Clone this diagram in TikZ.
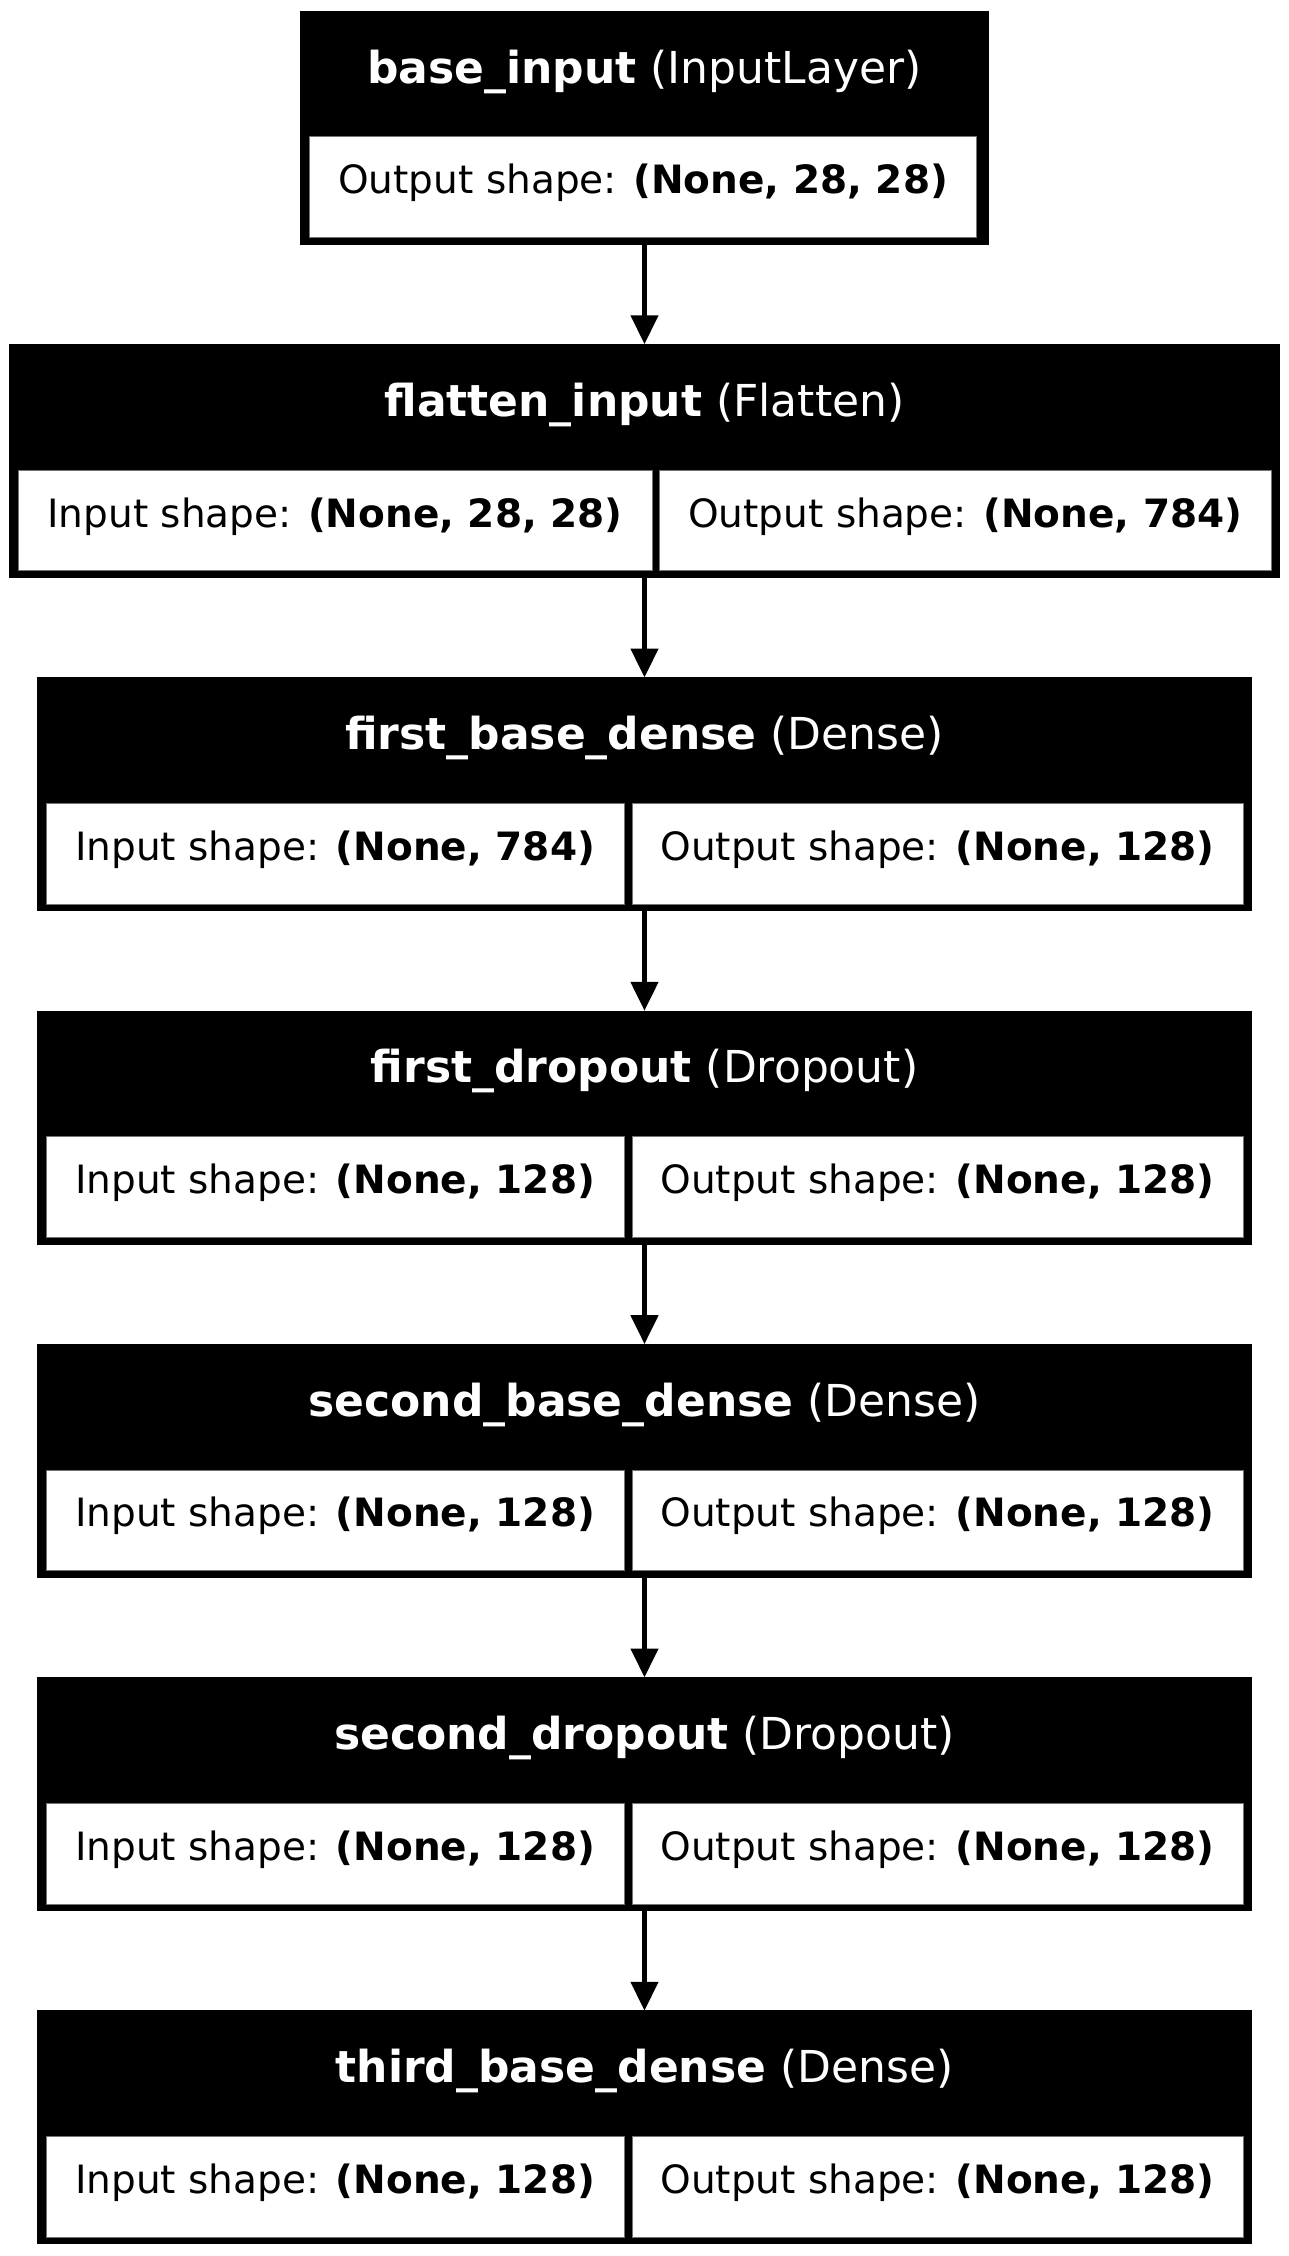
\documentclass[tikz,border=0pt]{standalone}
\usepackage{fontspec}
\setmainfont{DejaVu Sans}
\usetikzlibrary{positioning, arrows.meta}
\tikzstyle{layer} = [rectangle, fill=black, draw=black, text=white, inner sep=0pt, outer sep=0pt, text height=36pt, text depth=80.5pt, font=\fontsize{22}{26}\selectfont]
\tikzstyle{cell} = [rectangle, fill=white, draw=black!55, line width=0.4pt, inner sep=0pt, outer sep=0pt, text height=28.4pt, text depth=21.85pt, font=\fontsize{19.5}{23}\selectfont]
\tikzstyle{arrow} = [line width=2.8pt, ->, >={Triangle[length=14.5pt, width=13.3pt]}]

\begin{document}
\begin{tikzpicture}[node distance=50.15pt]
	\useasboundingbox (-322.25pt,5.5pt) rectangle (322.25pt,-1122.5pt);
	\node (base) [layer, minimum width=344.35pt, anchor=north] at (0,0) {\textbf{base\_input} (InputLayer)};
	\node (baseout) [cell, minimum width=333.7pt, above right=3.35pt and 4.65pt of base.south west] {Output shape: \textbf{(None, 28, 28)}};
	\node (flat) [layer, minimum width=634.85pt, below=of base] {\textbf{flatten\_input} (Flatten)};
	\node (flatin) [cell, minimum width=317pt, above right=3.3pt and 4.2pt of flat.south west] {Input shape: \textbf{(None, 28, 28)}};
	\node (flatout) [cell, minimum width=305.7pt, above left=3.3pt and 4.15pt of flat.south east] {Output shape: \textbf{(None, 784)}};
	\node (dense1) [layer, minimum width=606.75pt, below=of flat] {\textbf{first\_base\_dense} (Dense)};
	\node (dense1in) [cell, minimum width=289.15pt, above right=3.3pt and 4.1pt of dense1.south west] {Input shape: \textbf{(None, 784)}};
	\node (dense1out) [cell, minimum width=305.55pt, above left=3.3pt and 4.1pt of dense1.south east] {Output shape: \textbf{(None, 128)}};
	\node (drop1) [layer, minimum width=606.75pt, below=of dense1] {\textbf{first\_dropout} (Dropout)};
	\node (drop1in) [cell, minimum width=289.15pt, above right=3.3pt and 4.1pt of drop1.south west] {Input shape: \textbf{(None, 128)}};
	\node (drop1out) [cell, minimum width=305.55pt, above left=3.3pt and 4.1pt of drop1.south east] {Output shape: \textbf{(None, 128)}};
	\node (dense2) [layer, minimum width=606.75pt, below=of drop1] {\textbf{second\_base\_dense} (Dense)};
	\node (dense2in) [cell, minimum width=289.15pt, above right=3.3pt and 4.1pt of dense2.south west] {Input shape: \textbf{(None, 128)}};
	\node (dense2out) [cell, minimum width=305.55pt, above left=3.3pt and 4.1pt of dense2.south east] {Output shape: \textbf{(None, 128)}};
	\node (drop2) [layer, minimum width=606.75pt, below=of dense2] {\textbf{second\_dropout} (Dropout)};
	\node (drop2in) [cell, minimum width=289.15pt, above right=3.3pt and 4.1pt of drop2.south west] {Input shape: \textbf{(None, 128)}};
	\node (drop2out) [cell, minimum width=305.55pt, above left=3.3pt and 4.1pt of drop2.south east] {Output shape: \textbf{(None, 128)}};
	\node (dense3) [layer, minimum width=606.75pt, below=of drop2] {\textbf{third\_base\_dense} (Dense)};
	\node (dense3in) [cell, minimum width=289.15pt, above right=3.3pt and 4.1pt of dense3.south west] {Input shape: \textbf{(None, 128)}};
	\node (dense3out) [cell, minimum width=305.55pt, above left=3.3pt and 4.1pt of dense3.south east] {Output shape: \textbf{(None, 128)}};
	\draw [arrow] (base) -- (flat);
	\draw [arrow] (flat) -- (dense1);
	\draw [arrow] (dense1) -- (drop1);
	\draw [arrow] (drop1) -- (dense2);
	\draw [arrow] (dense2) -- (drop2);
	\draw [arrow] (drop2) -- (dense3);
\end{tikzpicture}
\end{document}
